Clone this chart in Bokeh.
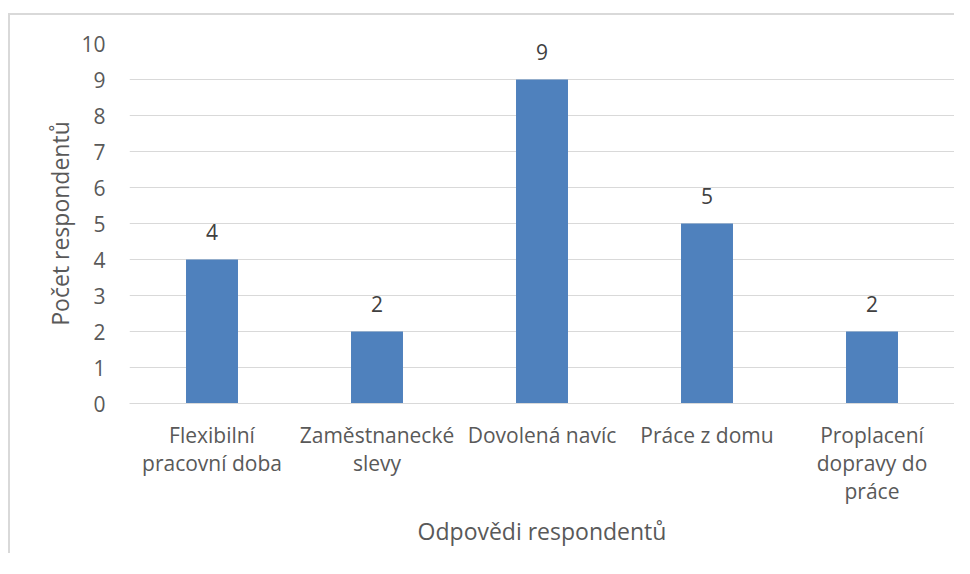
from bokeh.plotting import figure
from bokeh.models import Range1d, FixedTicker, ColumnDataSource
from bokeh.core.properties import value
from bokeh.embed import file_html
from bokeh.resources import INLINE

categories = ["Flexibilní\npracovní doba", "Zaměstnanecké\nslevy", "Dovolená navíc",
              "Práce z domu", "Proplacení\ndopravy do\npráce"]
counts = [4, 2, 9, 5, 2]
y_ticks = [0, 1, 2, 3, 4, 5, 6, 7, 8, 9, 10]
x_title = "Odpovědi respondentů"
y_title = "Počet respondentů"

FONT = "Open Sans"
GRID = "#d9d9d9"
TICK_SIZE = "21px"
TITLE_SIZE = "23px"

src = ColumnDataSource(dict(cat=categories, val=counts, lab=[str(v) for v in counts]))

p = figure(x_range=categories, y_range=Range1d(0, 10),
           frame_width=825, frame_height=360,
           output_backend="svg", toolbar_location=None,
           min_border_left=119, min_border_right=0, min_border_top=28, min_border_bottom=150,
           background_fill_color="white", border_fill_color="white",
           outline_line_color=None,
           styles={"margin-left": "8px", "margin-top": "13px",
                   "border-top": "2px solid #d9d9d9", "border-left": "2px solid #d9d9d9"})

p.vbar(x="cat", top="val", width=0.315, source=src, fill_color="#4F81BD", line_color=None)

p.text(x="cat", y="val", text="lab", source=src, y_offset=-28,
       text_align="center", text_baseline="alphabetic",
       text_font=value(FONT), text_font_size=TICK_SIZE, text_color="#404040")

# grid
p.xgrid.grid_line_color = None
p.ygrid.grid_line_color = GRID
p.ygrid.grid_line_width = 1

# y axis
p.yaxis.ticker = FixedTicker(ticks=y_ticks)
p.yaxis.axis_line_color = None
p.yaxis.major_tick_line_color = None
p.yaxis.minor_tick_line_color = None
p.yaxis.major_label_text_font = FONT
p.yaxis.major_label_text_font_size = TICK_SIZE
p.yaxis.major_label_text_color = "#595959"
p.yaxis.major_label_standoff = 18
p.yaxis.axis_label = y_title
p.yaxis.axis_label_text_font = FONT
p.yaxis.axis_label_text_font_size = TITLE_SIZE
p.yaxis.axis_label_text_font_style = "normal"
p.yaxis.axis_label_text_color = "#595959"
p.yaxis.axis_label_standoff = 2

# x axis
p.xaxis.axis_line_color = GRID
p.xaxis.axis_line_width = 1
p.xaxis.major_tick_line_color = None
p.xaxis.minor_tick_line_color = None
p.xaxis.major_label_text_font = FONT
p.xaxis.major_label_text_font_size = TICK_SIZE
p.xaxis.major_label_text_color = "#595959"
p.xaxis.major_label_text_line_height = 1.0
p.xaxis.major_label_standoff = 11
p.xaxis.axis_label = x_title
p.xaxis.axis_label_text_font = FONT
p.xaxis.axis_label_text_font_size = TITLE_SIZE
p.xaxis.axis_label_text_font_style = "normal"
p.xaxis.axis_label_text_color = "#595959"
p.xaxis.axis_label_standoff = 7

open("out.html", "w").write(file_html(p, INLINE))
